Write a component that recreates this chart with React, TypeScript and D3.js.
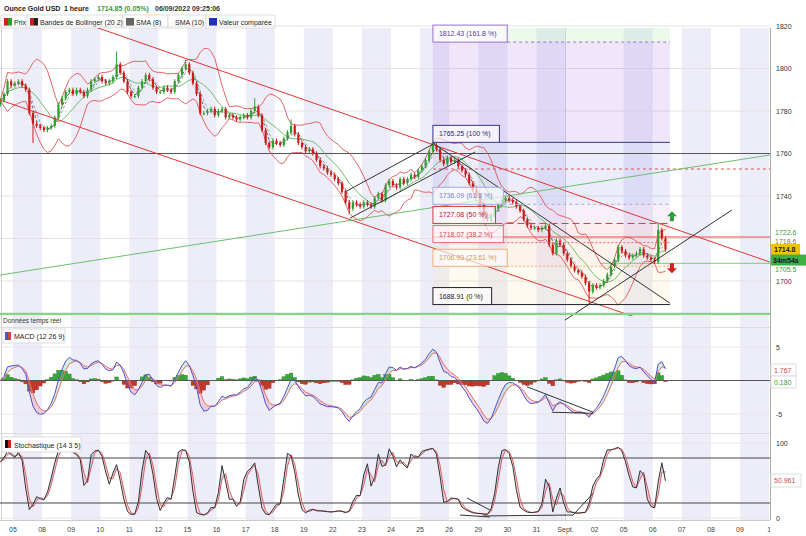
import React from "react";
import * as d3 from "d3";

const FONT = "'Liberation Sans', Arial, sans-serif";

// ---------------- data ----------------
const dayLabels = ["05","08","09","10","11","12","15","16","17","18","19","22","23","24","25","26","29","30","31","Sept.","02","05","06","07","08","09","1"];
const shadedDays = [0,2,4,6,8,10,12,14,16,18,21,23,25];
const firstCandleDay = -0.4375;
const candlesPerDay = 8;
const firstOpen = 1783;
const closes = [
1785,1788,1794,1792,1793,1794,1792,1790,1779,1774,
1773,1772,1771,1772,1773,1777,1783,1786,1789,1790,
1788,1790,1789,1787,1790,1794,1795,1796,1794,1793,
1794,1796,1802,1798,1794,1789,1787,1787,1791,1794,
1797,1795,1791,1789,1789,1791,1790,1789,1794,1797,
1800,1802,1798,1793,1788,1779,1779,1780,1781,1778,
1780,1781,1777,1778,1777,1776,1777,1778,1777,1780,
1782,1778,1771,1765,1763,1766,1765,1764,1767,1770,
1773,1769,1765,1763,1761,1762,1760,1757,1754,1753,
1751,1750,1748,1746,1742,1737,1734,1737,1736,1735,
1737,1736,1735,1739,1741,1738,1745,1747,1745,1744,
1748,1746,1748,1750,1749,1752,1754,1757,1761,1764,
1762,1757,1755,1758,1756,1757,1754,1752,1750,1746,
1743,1740,1736,1731,1729,1731,1734,1736,1738,1739,
1738,1737,1735,1733,1729,1726,1725,1725,1724,1725,
1726,1717,1713,1719,1717,1713,1710,1707,1705,1704,
1702,1699,1695,1698,1697,1698,1700,1703,1707,1710,
1716,1714,1712,1711,1712,1713,1715,1712,1711,1710,
1709,1724,1720,1714.85
];
const highSpikes: [number, number][] = [[32,1808],[51,1804],[70,1786],[80,1776],[119,1765.25],[181,1727]];
const lowSpikes: [number, number][] = [[9,1765],[96,1731.5],[162,1688.91]];

const priceGrid = [1700,1720,1740,1760,1780,1800,1820];
const priceAxisLabels = [1700,1740,1760,1780,1800,1820];
const macdAxisLabels = [5,-5];
const stochAxisLabels = [100,0];
const stochBands = [80,20];

const fibValues = [1812.43,1765.25,1736.09,1727.08,1718.07,1706.93,1688.91];
const fibPercents = ["161.8 %","100 %","61.8 %","50 %","38.2 %","23.61 %","0 %"];
const fibStartDay = 14.44;
const fibEndDay = 22.59;

// trend lines: [day1, value1, day2, value2]
const redChannel = [[2.0,1823.5,26.03,1708.9],[-0.45,1785.2,22.49,1677.9]];
const greenTrend = [-0.45,1702.8,26.03,1759.3];
const blackTrends = [[11.42,1741.9,14.51,1764.9],[11.59,1729.6,15.89,1760.7],[14.44,1764.9,22.59,1689.6],[18.98,1681.6,24.72,1733.4]];
const resistanceLevel = 1760;
const supportLevel = 1684.5;
const redDashedLevel = 1752.7;
const pinkLevel = 1720.7;
const greenLevel = [20.19, 1708.3];
const arrowUp = [22.66, 1730];
const arrowDown = [22.66, 1706.5];
const macdTrends = [[17.68,-0.95,19.95,-4.74],[18.53,-4.74,19.95,-4.9]];
const stochTrends = [[15.37,4,16.4,1.3],[15.61,26.7,16.4,10.7],[16.16,2.7,19.26,4],[19.26,4,19.95,33]];

const rightPriceLabels = [["1722.6",1722.6],["1718.6",1718.6]];
const lastPrice = 1714.8;
const timerText = "34m54s";
const lowLabel = ["1705.5",1705.5];
const macdLast = ["1.767","0.180"];
const stochLast = "50.961";

// ---------------- helpers ----------------
function sma(a: number[], n: number) {
  return a.map((_, i) => d3.mean(a.slice(Math.max(0, i - n + 1), i + 1)) as number);
}
function ema(a: number[], n: number) {
  const k = 2 / (n + 1);
  const out: number[] = [];
  a.forEach((v, i) => out.push(i === 0 ? v : v * k + out[i - 1] * (1 - k)));
  return out;
}
function sdev(a: number[], n: number) {
  return a.map((_, i) => d3.deviation(a.slice(Math.max(0, i - n + 1), i + 1)) || 0);
}

export default function App() {
  const x = d3.scaleLinear().domain([0, 26]).range([13, 769.08]);
  const yP = d3.scaleLinear().domain([1700, 1820]).range([281, 26]);
  const yM = d3.scaleLinear().domain([-5, 5]).range([414, 347]);
  const yS = d3.scaleLinear().domain([0, 100]).range([518, 443]);

  const times = closes.map((_, i) => firstCandleDay + i / candlesPerDay);
  const opens = closes.map((c, i) => (i === 0 ? firstOpen : closes[i - 1]));
  const highs = closes.map((c, i) => {
    const s = highSpikes.find((e) => e[0] === i);
    return s ? s[1] : Math.max(c, opens[i]) + 1;
  });
  const lows = closes.map((c, i) => {
    const s = lowSpikes.find((e) => e[0] === i);
    return s ? s[1] : Math.min(c, opens[i]) - 1;
  });

  // indicators
  const bbMid = sma(closes, 9);
  const bbSd = sdev(closes, 9);
  const bbUp = bbMid.map((m, i) => m + 2 * bbSd[i]);
  const bbLo = bbMid.map((m, i) => m - 2 * bbSd[i]);
  const sma8 = sma(closes, 3);
  const sma10 = sma(closes, 4);
  const e1 = ema(closes, 4);
  const e2 = ema(closes, 9);
  const macd = e1.map((v, i) => v - e2[i]);
  const signal = ema(macd, 3);
  const hist = macd.map((v, i) => v - signal[i]);
  const rawK = closes.map((c, i) => {
    const hh = d3.max(highs.slice(Math.max(0, i - 4), i + 1)) as number;
    const ll = d3.min(lows.slice(Math.max(0, i - 4), i + 1)) as number;
    return hh === ll ? 50 : ((c - ll) / (hh - ll)) * 100;
  });
  const kLine = sma(rawK, 2);
  const dLine = sma(kLine, 2);

  const step = x(1 / candlesPerDay) - x(0);
  const lineOf = (arr: number[], y: any) =>
    d3.line<number>().x((_, i) => x(times[i])).y((v) => y(v))(arr) || "";

  const W = 806, H = 536, R = 770;
  const mainTop = 28, mainBot = 316;

  const fibX1 = x(fibStartDay), fibX2 = x(fibEndDay);
  const fibFill = ["rgba(175,130,235,0.20)","rgba(120,120,225,0.14)","rgba(205,150,215,0.15)","rgba(240,140,150,0.16)","rgba(250,190,150,0.18)","rgba(250,228,175,0.20)"];
  const fibLine = ["#9a70d0","#34348a","#a4acdc","#d04040","#e07070","#f0b070","#222"];
  const fibDash = ["3,3","","3,3","7,4","2,2","2,2",""];
  const fibText = ["#5a3a9a","#2a2a70","#7a88c8","#b02020","#d04848","#d0a040","#222"];

  const seg = (t: number[], yS2: any, key: string, stroke: string, w = 1, dash = "") => (
    <line key={key} x1={x(t[0])} y1={yS2(t[1])} x2={x(t[2])} y2={yS2(t[3])} stroke={stroke} strokeWidth={w} strokeDasharray={dash} />
  );

  const legendItems = [
    { label: "Prix", x0: 1, w: 26, icon: ["#d42020", "#2ea02e"] },
    { label: "Bandes de Bollinger (20 2)", x0: 27, w: 96, icon: ["#c02020", "#222"] },
    { label: "SMA (8)", x0: 123, w: 45, icon: ["#666", "#666"] },
    { label: "SMA (10)", x0: 168, w: 38, icon: null },
    { label: "Valeur comparée", x0: 206, w: 69, icon: ["#2030c0", "#2030c0"] },
  ];

  const arrow = (cx: number, cy: number, up: boolean, color: string) => {
    const d = up
      ? `M${cx},${cy - 6} L${cx + 5},${cy - 1} L${cx + 2},${cy - 1} L${cx + 2},${cy + 4} L${cx - 2},${cy + 4} L${cx - 2},${cy - 1} L${cx - 5},${cy - 1} Z`
      : `M${cx},${cy + 6} L${cx + 5},${cy + 1} L${cx + 2},${cy + 1} L${cx + 2},${cy - 4} L${cx - 2},${cy - 4} L${cx - 2},${cy + 1} L${cx - 5},${cy + 1} Z`;
    return <path d={d} fill={color} />;
  };

  return (
    <svg width={W} height={H} style={{ position: "fixed", left: 0, top: 0, background: "#fff", fontFamily: FONT }}>
      <defs>
        <clipPath id="cMain"><rect x={0} y={mainTop} width={R} height={mainBot - mainTop} /></clipPath>
        <clipPath id="cMacd"><rect x={0} y={328} width={R} height={104} /></clipPath>
        <clipPath id="cStoch"><rect x={0} y={434} width={R} height={86} /></clipPath>
      </defs>
      <rect x={0} y={0} width={W} height={H} fill="#fff" />
      {/* day bands */}
      {shadedDays.map((k) => (
        <rect key={"b" + k} x={x(k)} y={mainTop} width={x(k + 1) - x(k)} height={520 - mainTop} fill="#ededfa" />
      ))}
      {/* header */}
      <text x={4} y={11} fontSize={7} fontWeight="bold" fill="#222">Ounce Gold USD</text>
      <text x={64} y={11} fontSize={7} fontWeight="bold" fill="#222">1 heure</text>
      <text x={97} y={11} fontSize={7} fontWeight="bold" fill="#3a9a3a">1714.85 (0.05%)</text>
      <text x={155} y={11} fontSize={7} fontWeight="bold" fill="#333">06/09/2022 09:25:06</text>
      {legendItems.map((it, i) => (
        <g key={"lg" + i}>
          <rect x={it.x0} y={15} width={it.w} height={13} fill="#fff" stroke="#d8d8d8" strokeWidth={0.8} />
          {it.icon && (
            <g>
              <rect x={it.x0 + 3} y={18} width={4} height={8} fill={it.icon[0]} />
              <rect x={it.x0 + 7} y={18} width={4} height={8} fill={it.icon[1]} />
            </g>
          )}
          <text x={it.x0 + (it.icon ? 13 : 7)} y={24.5} fontSize={7} fill="#222">{it.label}</text>
        </g>
      ))}

      {/* main panel grid */}
      {priceGrid.map((v) => (
        <line key={"pg" + v} x1={0} x2={R} y1={yP(v)} y2={yP(v)} stroke="#e2e2e2" strokeWidth={1} />
      ))}
      <line x1={x(19)} x2={x(19)} y1={mainTop} y2={520} stroke="#d0d0d8" strokeWidth={1} />
      <line x1={1.5} x2={1.5} y1={mainTop} y2={520} stroke="#d0d0d0" strokeWidth={1} />

      {/* fibonacci zones */}
      <rect x={fibX1 + 70} y={mainTop} width={fibX2 - fibX1 - 70} height={yP(fibValues[0]) - mainTop} fill="rgba(185,235,185,0.3)" />
      {fibFill.map((c, i) => (
        <rect key={"ff" + i} x={fibX1} y={yP(fibValues[i])} width={fibX2 - fibX1} height={yP(fibValues[i + 1]) - yP(fibValues[i])} fill={c} />
      ))}

      <g clipPath="url(#cMain)">
        {/* horizontal levels */}
        <line x1={0} x2={R} y1={yP(resistanceLevel)} y2={yP(resistanceLevel)} stroke="#555" strokeWidth={1.1} />
        <line x1={fibX1} x2={R} y1={yP(redDashedLevel)} y2={yP(redDashedLevel)} stroke="#e05050" strokeWidth={1} strokeDasharray="3,3" />
        <line x1={fibX1} x2={R} y1={yP(pinkLevel)} y2={yP(pinkLevel)} stroke="rgba(235,90,90,0.55)" strokeWidth={2} />
        <line x1={x(greenLevel[0])} x2={R} y1={yP(greenLevel[1])} y2={yP(greenLevel[1])} stroke="rgba(100,200,100,0.7)" strokeWidth={1.2} />
        {/* bollinger and sma */}
        <path d={lineOf(bbUp, yP)} fill="none" stroke="#e05555" strokeWidth={0.9} />
        <path d={lineOf(bbLo, yP)} fill="none" stroke="#e05555" strokeWidth={0.9} />
        <path d={lineOf(bbMid, yP)} fill="none" stroke="#5cb85c" strokeWidth={0.9} />
        <path d={lineOf(sma8, yP)} fill="none" stroke="#555" strokeWidth={0.9} strokeDasharray="3,2" />
        <path d={lineOf(sma10, yP)} fill="none" stroke="#999" strokeWidth={0.9} strokeDasharray="3,2" />
        {/* candles */}
        {closes.map((c, i) => {
          const up = c >= opens[i];
          const col = up ? "#2e9e2e" : "#d01818";
          const cx = x(times[i]);
          const top = yP(Math.max(c, opens[i]));
          const bot = yP(Math.min(c, opens[i]));
          return (
            <g key={"c" + i}>
              <line x1={cx} x2={cx} y1={yP(highs[i])} y2={yP(lows[i])} stroke={col} strokeWidth={1} />
              <rect x={cx - step * 0.3} y={top} width={step * 0.6} height={Math.max(1, bot - top)} fill={col} />
            </g>
          );
        })}
      </g>

      {/* trend lines */}
      <g clipPath="url(#cMain)">
        {redChannel.map((t, i) => seg(t, yP, "rc" + i, "#e03535", 1))}
        {seg(greenTrend, yP, "gt", "#6cbf6c", 1)}
      </g>
      {blackTrends.map((t, i) => seg(t, yP, "bt" + i, "#333", 1))}
      <line x1={0} x2={R} y1={yP(supportLevel)} y2={yP(supportLevel)} stroke="#86d486" strokeWidth={2.2} />

      {/* fib lines & labels */}
      {fibValues.map((v, i) => {
        const label = v.toFixed(2) + " (" + fibPercents[i] + ")";
        const bw = label.length * 3.9 + 8;
        return (
          <g key={"fl" + i}>
            <line x1={fibX1 + bw} x2={fibX2} y1={yP(v)} y2={yP(v)} stroke={fibLine[i]} strokeWidth={1} strokeDasharray={fibDash[i]} />
            <rect x={fibX1} y={yP(v) - 17} width={bw} height={17} fill="rgba(255,255,255,0.65)" stroke={fibLine[i]} strokeWidth={1} />
            <text x={fibX1 + 6} y={yP(v) - 6} fontSize={7} fill={fibText[i]}>{label}</text>
          </g>
        );
      })}
      {arrow(x(arrowUp[0]), yP(arrowUp[1]), true, "#2e9e3e")}
      {arrow(x(arrowDown[0]), yP(arrowDown[1]), false, "#d02020")}

      {/* separator + realtime label */}
      <text x={3} y={323} fontSize={6.5} fill="#333">Données temps réel</text>
      <line x1={0} x2={W} y1={327.5} y2={327.5} stroke="#ddd" />
      <line x1={0} x2={W} y1={433.5} y2={433.5} stroke="#ddd" />

      {/* MACD panel */}
      {macdAxisLabels.map((v) => (
        <line key={"mg" + v} x1={0} x2={R} y1={yM(v)} y2={yM(v)} stroke="#e6e6e6" />
      ))}
      <g clipPath="url(#cMacd)">
        {hist.map((h, i) => (
          <rect key={"h" + i} x={x(times[i]) - step / 2} y={Math.min(yM(h), yM(0))} width={step} height={Math.abs(yM(h) - yM(0))}
            fill={h >= 0 ? "#3aa63a" : "#c0392b"} stroke={h >= 0 ? "#2a8a2a" : "#a02a20"} strokeWidth={0.4} />
        ))}
        {macd.slice(0, -1).map((m, i) => (
          <polygon key={"mf" + i}
            points={`${x(times[i])},${yM(m)} ${x(times[i + 1])},${yM(macd[i + 1])} ${x(times[i + 1])},${yM(signal[i + 1])} ${x(times[i])},${yM(signal[i])}`}
            fill={m + macd[i + 1] >= signal[i] + signal[i + 1] ? "rgba(120,200,140,0.3)" : "rgba(235,140,150,0.35)"} />
        ))}
        <line x1={0} x2={R} y1={yM(0)} y2={yM(0)} stroke="#555" strokeWidth={1} />
        <path d={lineOf(signal, yM)} fill="none" stroke="#e07070" strokeWidth={1} />
        <path d={lineOf(macd, yM)} fill="none" stroke="#5050d0" strokeWidth={1} />
        {macdTrends.map((t, i) => seg(t, yM, "mt" + i, "#333", 1))}
      </g>
      <rect x={2} y={329} width={63} height={14} fill="#fff" stroke="#ddd" />
      <rect x={5} y={332} width={3} height={8} fill="#5050d0" />
      <rect x={8} y={332} width={3} height={8} fill="#d04040" />
      <text x={14} y={339} fontSize={7} fill="#222">MACD (12 26 9)</text>

      {/* Stochastic panel */}
      {stochAxisLabels.map((v) => (
        <line key={"sg" + v} x1={0} x2={R} y1={yS(v)} y2={yS(v)} stroke="#e6e6e6" />
      ))}
      {stochBands.map((v) => (
        <line key={"sb" + v} x1={0} x2={R} y1={yS(v)} y2={yS(v)} stroke="#444" strokeWidth={1} />
      ))}
      <g clipPath="url(#cStoch)">
        {kLine.slice(0, -1).map((k, i) => (
          <polygon key={"sf" + i}
            points={`${x(times[i])},${yS(k)} ${x(times[i + 1])},${yS(kLine[i + 1])} ${x(times[i + 1])},${yS(dLine[i + 1])} ${x(times[i])},${yS(dLine[i])}`}
            fill={k + kLine[i + 1] >= dLine[i] + dLine[i + 1] ? "rgba(110,130,200,0.3)" : "rgba(235,140,150,0.3)"} />
        ))}
        <path d={lineOf(dLine, yS)} fill="none" stroke="#e06060" strokeWidth={1} />
        <path d={lineOf(kLine, yS)} fill="none" stroke="#333" strokeWidth={1} />
        {stochTrends.map((t, i) => seg(t, yS, "st" + i, "#333", 1))}
      </g>
      <rect x={2} y={437} width={79} height={15} fill="#fff" stroke="#ddd" />
      <rect x={5} y={440} width={3} height={8} fill="#111" />
      <rect x={8} y={440} width={3} height={8} fill="#d02020" />
      <text x={14} y={447.5} fontSize={7} fill="#222">Stochastique (14 3 5)</text>

      {/* x axis */}
      <line x1={0} x2={R} y1={520.5} y2={520.5} stroke="#ccc" />
      {dayLabels.map((d, i) => (
        <text key={"xl" + i} x={x(i)} y={532} fontSize={7} fill="#444" textAnchor="middle">{d}</text>
      ))}

      {/* right axis */}
      <rect x={R} y={mainTop} width={W - R} height={H - mainTop} fill="#fff" />
      <line x1={R + 0.5} x2={R + 0.5} y1={mainTop} y2={520} stroke="#aaa" />
      {priceAxisLabels.map((v) => (
        <text key={"pl" + v} x={776} y={yP(v) + 2.5} fontSize={7} fill="#333">{v}</text>
      ))}
      {rightPriceLabels.map((l, i) => (
        <text key={"rl" + i} x={775} y={yP(l[1] as number) + 2.5} fontSize={7} fill={i === 0 ? "#3a9a3a" : "#777"}>{l[0]}</text>
      ))}
      <rect x={771} y={yP(lastPrice) - 5.5} width={29} height={11} fill="#f2c200" />
      <text x={774} y={yP(lastPrice) + 2.5} fontSize={7} fontWeight="bold" fill="#222">{lastPrice.toFixed(1)}</text>
      <rect x={771} y={yP(lastPrice) + 5} width={35} height={11} fill="#3cb043" />
      <text x={773} y={yP(lastPrice) + 13} fontSize={7} fontWeight="bold" fill="#113">{timerText}</text>
      <text x={775} y={yP(lowLabel[1] as number) + 2.5} fontSize={7} fill="#3a9a3a">{lowLabel[0]}</text>

      {macdAxisLabels.map((v) => (
        <text key={"ml" + v} x={776} y={yM(v) + 2.5} fontSize={7} fill="#333">{v}</text>
      ))}
      <rect x={771} y={364} width={25} height={12} fill="#fff" stroke="#ddd" />
      <text x={774} y={372.5} fontSize={7} fill="#d04848">{macdLast[0]}</text>
      <rect x={771} y={376} width={25} height={12} fill="#fff" stroke="#ddd" />
      <text x={774} y={384.5} fontSize={7} fill="#3a9a3a">{macdLast[1]}</text>

      {stochAxisLabels.map((v) => (
        <text key={"sl" + v} x={776} y={yS(v) + 2.5} fontSize={7} fill="#333">{v}</text>
      ))}
      <rect x={771} y={474} width={30} height={13} fill="#fff" stroke="#ddd" />
      <text x={774} y={483} fontSize={7} fill="#d04848">{stochLast}</text>
    </svg>
  );
}
